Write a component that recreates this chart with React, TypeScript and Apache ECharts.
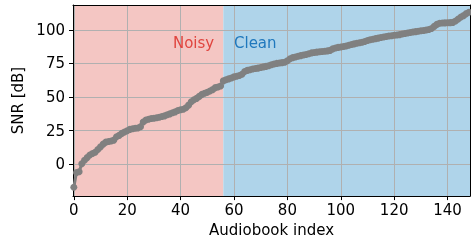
import React, { useEffect, useRef } from "react";
import * as echarts from "echarts";

const snrValues: number[] = [
  -17, -6, -5.5, 0.5, 3, 5, 7, 8, 9, 11,
  13, 15, 16.5, 17, 17.3, 18, 20.5, 21.5, 23, 24,
  25, 26, 26.5, 26.8, 27, 28, 31.5, 33, 33.5, 34,
  34.3, 34.6, 35, 35.6, 36, 36.8, 37.5, 38.3, 39, 40,
  40.5, 41, 42, 44, 46.5, 48, 49, 50.5, 52, 52.8,
  53.5, 54.5, 55.5, 57, 57.5, 58.2, 62, 62.8, 63.5, 64.2,
  65, 65.5, 66, 67, 69, 69.8, 70.3, 70.8, 71.2, 71.5,
  72, 72.4, 72.8, 73.2, 74, 74.6, 75, 75.3, 75.6, 75.9,
  77, 78.5, 79.3, 79.8, 80.3, 80.8, 81.2, 81.6, 82.2, 82.8,
  83.1, 83.4, 83.6, 83.8, 84, 84.3, 84.7, 85.8, 86.5, 86.9,
  87.2, 87.6, 88, 88.5, 89, 89.5, 90, 90.3, 90.7, 91.3,
  92, 92.6, 93, 93.4, 93.8, 94.2, 94.6, 95, 95.3, 95.6,
  95.9, 96.1, 96.4, 96.8, 97.2, 97.6, 98, 98.3, 98.6, 98.9,
  99.2, 99.5, 99.8, 100.2, 101, 102.5, 104, 104.8, 105, 105.1,
  105.2, 105.3, 105.5, 106.5, 108, 109.5, 110.5, 112, 113,
];

const xLimits = [-0.3, 148.4];
const yLimits = [-23.6, 118.4];
const splitIndex = 56;
const regionLabels = ["Noisy", "Clean"];
const labelAnchorX = [52.6, 60];
const labelAnchorY = 90;

export default function App() {
  const ref = useRef<HTMLDivElement>(null);

  useEffect(() => {
    if (!ref.current) return;
    const chart = echarts.init(ref.current, null, { renderer: "svg" });
    const font = "DejaVu Sans";
    const data = snrValues.map((v, i) => [i, v]);

    chart.setOption({
      animation: false,
      textStyle: { fontFamily: font },
      grid: { left: 73, right: 1, top: 5, bottom: 43 },
      xAxis: [
        {
          type: "value",
          min: xLimits[0],
          max: xLimits[1],
          minInterval: 20,
          maxInterval: 20,
          z: 3,
          name: "Audiobook index",
          nameLocation: "middle",
          nameGap: 23,
          nameTextStyle: { fontFamily: font, fontSize: 15, color: "#000" },
          axisLine: { show: true, onZero: false, lineStyle: { color: "#000", width: 1 } },
          axisTick: { show: true, length: 4, lineStyle: { color: "#000" } },
          axisLabel: {
            fontFamily: font,
            fontSize: 15,
            color: "#000",
            margin: 6,
            showMinLabel: false,
            showMaxLabel: false,
          },
          splitLine: { show: true, lineStyle: { color: "#b0b0b0", width: 1 } },
        },
        {
          type: "value",
          position: "top",
          min: xLimits[0],
          max: xLimits[1],
          z: 3,
          axisLine: { show: true, onZero: false, lineStyle: { color: "#000", width: 1 } },
          axisTick: { show: false },
          axisLabel: { show: false },
          splitLine: { show: false },
        },
      ],
      yAxis: [
        {
          type: "value",
          min: yLimits[0],
          max: yLimits[1],
          minInterval: 25,
          maxInterval: 25,
          z: 3,
          name: "SNR [dB]",
          nameLocation: "middle",
          nameGap: 38,
          nameTextStyle: { fontFamily: font, fontSize: 15, color: "#000" },
          axisLine: { show: true, onZero: false, lineStyle: { color: "#000", width: 1 } },
          axisTick: { show: true, length: 4, lineStyle: { color: "#000" } },
          axisLabel: {
            fontFamily: font,
            fontSize: 15,
            color: "#000",
            margin: 8,
            showMinLabel: false,
            showMaxLabel: false,
          },
          splitLine: { show: true, lineStyle: { color: "#b0b0b0", width: 1 } },
        },
        {
          type: "value",
          position: "right",
          min: yLimits[0],
          max: yLimits[1],
          z: 3,
          axisLine: { show: true, onZero: false, lineStyle: { color: "#000", width: 1 } },
          axisTick: { show: false },
          axisLabel: { show: false },
          splitLine: { show: false },
        },
      ],
      series: [
        {
          type: "line",
          data: [],
          z: 1,
          silent: true,
          markArea: {
            silent: true,
            data: [
              [
                { xAxis: xLimits[0], yAxis: yLimits[0], itemStyle: { color: "#f4c6c3" } },
                { xAxis: splitIndex, yAxis: yLimits[1] },
              ],
              [
                { xAxis: splitIndex, yAxis: yLimits[0], itemStyle: { color: "#afd4ea" } },
                { xAxis: xLimits[1], yAxis: yLimits[1] },
              ],
            ],
          },
          markPoint: {
            symbol: "circle",
            symbolSize: 0,
            silent: true,
            data: [
              {
                coord: [labelAnchorX[0], labelAnchorY],
                label: {
                  show: true,
                  position: "left",
                  distance: 0,
                  formatter: regionLabels[0],
                  fontFamily: font,
                  fontSize: 15,
                  color: "#e0453f",
                },
              },
              {
                coord: [labelAnchorX[1], labelAnchorY],
                label: {
                  show: true,
                  position: "right",
                  distance: 0,
                  formatter: regionLabels[1],
                  fontFamily: font,
                  fontSize: 15,
                  color: "#1f78bd",
                },
              },
            ],
          },
        },
        {
          type: "line",
          data,
          z: 5,
          symbol: "circle",
          symbolSize: 7,
          showSymbol: true,
          clip: false,
          itemStyle: { color: "#808080" },
          lineStyle: { color: "#808080", width: 3 },
        },
      ],
    });

    return () => chart.dispose();
  }, []);

  return (
    <div
      ref={ref}
      style={{ position: "fixed", left: 0, top: 0, width: 471, height: 242 }}
    />
  );
}
